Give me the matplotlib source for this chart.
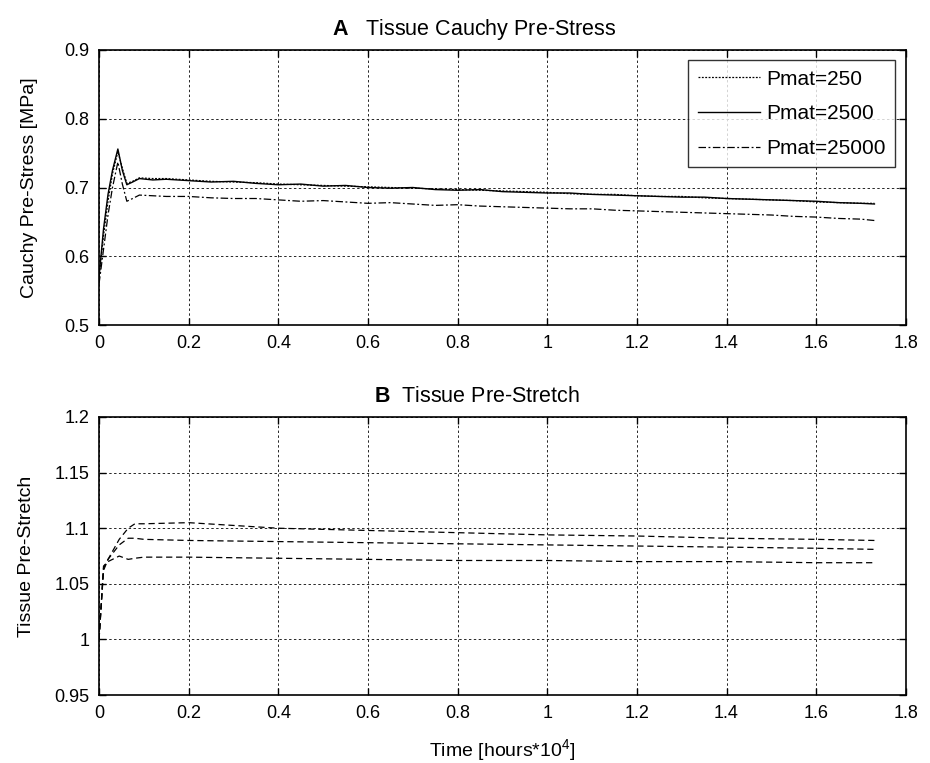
import matplotlib.pyplot as plt

plt.rcParams['font.family'] = ['Liberation Sans', 'DejaVu Sans']
plt.rcParams['mathtext.fontset'] = 'custom'
plt.rcParams['mathtext.rm'] = 'Liberation Sans'
plt.rcParams['mathtext.bf'] = 'Liberation Sans:bold'

# ---- panel A : Cauchy pre-stress ----
t_a = [0, 0.01, 0.02, 0.03, 0.042, 0.052, 0.062, 0.075, 0.09, 0.12, 0.15, 0.2, 0.25,
       0.3, 0.35, 0.4, 0.45, 0.5, 0.55, 0.6, 0.65, 0.7, 0.75, 0.8, 0.85, 0.9, 0.95,
       1.0, 1.05, 1.1, 1.15, 1.2, 1.25, 1.3, 1.35, 1.4, 1.45, 1.5, 1.55, 1.6, 1.65,
       1.7, 1.73]
stress_250 = [0.57, 0.63, 0.68, 0.72, 0.752, 0.728, 0.706, 0.709, 0.714, 0.713, 0.713,
              0.711, 0.709, 0.708, 0.707, 0.705, 0.704, 0.703, 0.702, 0.701, 0.700,
              0.699, 0.698, 0.697, 0.696, 0.695, 0.694, 0.693, 0.691, 0.690, 0.690,
              0.688, 0.687, 0.687, 0.685, 0.684, 0.683, 0.682, 0.681, 0.679, 0.678,
              0.677, 0.677]
stress_2500 = [0.57, 0.64, 0.69, 0.725, 0.756, 0.725, 0.704, 0.708, 0.713, 0.711, 0.712,
               0.710, 0.708, 0.709, 0.706, 0.704, 0.705, 0.702, 0.703, 0.700, 0.699,
               0.700, 0.697, 0.696, 0.697, 0.694, 0.693, 0.692, 0.692, 0.690, 0.689,
               0.688, 0.687, 0.686, 0.686, 0.684, 0.683, 0.682, 0.681, 0.680, 0.678,
               0.677, 0.676]
stress_25000 = [0.56, 0.61, 0.66, 0.70, 0.737, 0.705, 0.680, 0.684, 0.689, 0.688, 0.687,
                0.687, 0.685, 0.684, 0.684, 0.682, 0.680, 0.681, 0.679, 0.677, 0.678,
                0.676, 0.674, 0.675, 0.673, 0.672, 0.671, 0.670, 0.669, 0.669, 0.667,
                0.666, 0.665, 0.664, 0.663, 0.662, 0.661, 0.660, 0.658, 0.657, 0.655,
                0.654, 0.652]
labels = ['Pmat=250', 'Pmat=2500', 'Pmat=25000']

# ---- panel B : pre-stretch ----
t_b = [0, 0.01, 0.02, 0.045, 0.065, 0.08, 0.1, 0.2, 0.4, 0.6, 0.8, 1.0, 1.2, 1.4, 1.6, 1.73]
stretch_hi = [1.0, 1.062, 1.072, 1.09, 1.100, 1.104, 1.104, 1.105, 1.100, 1.098, 1.096,
              1.094, 1.093, 1.091, 1.090, 1.089]
stretch_mid = [1.0, 1.064, 1.072, 1.085, 1.091, 1.091, 1.090, 1.089, 1.088, 1.087, 1.086,
               1.085, 1.084, 1.083, 1.082, 1.081]
stretch_lo = [1.0, 1.066, 1.070, 1.075, 1.072, 1.073, 1.074, 1.074, 1.073, 1.072, 1.071,
              1.071, 1.070, 1.070, 1.069, 1.069]

xticks = [0, 0.2, 0.4, 0.6, 0.8, 1, 1.2, 1.4, 1.6, 1.8]
xticklabels = ['0', '0.2', '0.4', '0.6', '0.8', '1', '1.2', '1.4', '1.6', '1.8']

fig = plt.figure(figsize=(9.3, 7.63), dpi=100)
ax1 = fig.add_axes([0.1065, 0.574, 0.8675, 0.3605])
ax2 = fig.add_axes([0.1065, 0.089, 0.8675, 0.3645])


def style(ax):
    ax.grid(True, color='0.15', linestyle=(0, (2.5, 2.5)), linewidth=0.7)
    ax.tick_params(direction='in', top=True, right=True, length=5, labelsize=13,
                   pad=7, width=1)
    for s in ax.spines.values():
        s.set_linewidth(1.2)
    ax.set_axisbelow(True)


ax1.plot(t_a, stress_250, color='k', lw=0.9, linestyle=(0, (1.5, 1.2)), label=labels[0])
ax1.plot(t_a, stress_2500, color='k', lw=1.0, linestyle='-', label=labels[1])
ax1.plot(t_a, stress_25000, color='k', lw=0.9, linestyle=(0, (6, 2, 1.5, 2)), label=labels[2])
ax1.set_xlim(0, 1.8)
ax1.set_ylim(0.5, 0.9)
ax1.set_xticks(xticks)
ax1.set_xticklabels(xticklabels)
ax1.set_yticks([0.5, 0.6, 0.7, 0.8, 0.9])
ax1.set_ylabel('Cauchy Pre-Stress [MPa]', fontsize=14, labelpad=19)
ax1.set_title(r'$\mathbf{A}$   Tissue Cauchy Pre-Stress', fontsize=15.5, pad=11, x=0.465)
style(ax1)
leg = ax1.legend(loc='upper right', fontsize=15, frameon=True, fancybox=False,
                 edgecolor='k', handlelength=3.0, borderaxespad=0.5,
                 labelspacing=0.75, handletextpad=0.3, borderpad=0.45)
leg.get_frame().set_linewidth(1.0)

for y in (stretch_hi, stretch_mid, stretch_lo):
    ax2.plot(t_b, y, color='k', lw=0.9, linestyle=(0, (5, 3)))
ax2.set_xlim(0, 1.8)
ax2.set_ylim(0.95, 1.2)
ax2.set_xticks(xticks)
ax2.set_xticklabels(xticklabels)
ax2.set_yticks([0.95, 1.0, 1.05, 1.1, 1.15, 1.2])
ax2.set_yticklabels(['0.95', '1', '1.05', '1.1', '1.15', '1.2'])
ax2.set_ylabel('Tissue Pre-Stretch', fontsize=14, labelpad=14)
ax2.set_xlabel(r'Time [hours*10$^4$]', fontsize=14, labelpad=11)
ax2.set_title(r'$\mathbf{B}$  Tissue Pre-Stretch', fontsize=15.5, pad=11, x=0.468)
style(ax2)

fig.savefig('out.png', dpi=100)
